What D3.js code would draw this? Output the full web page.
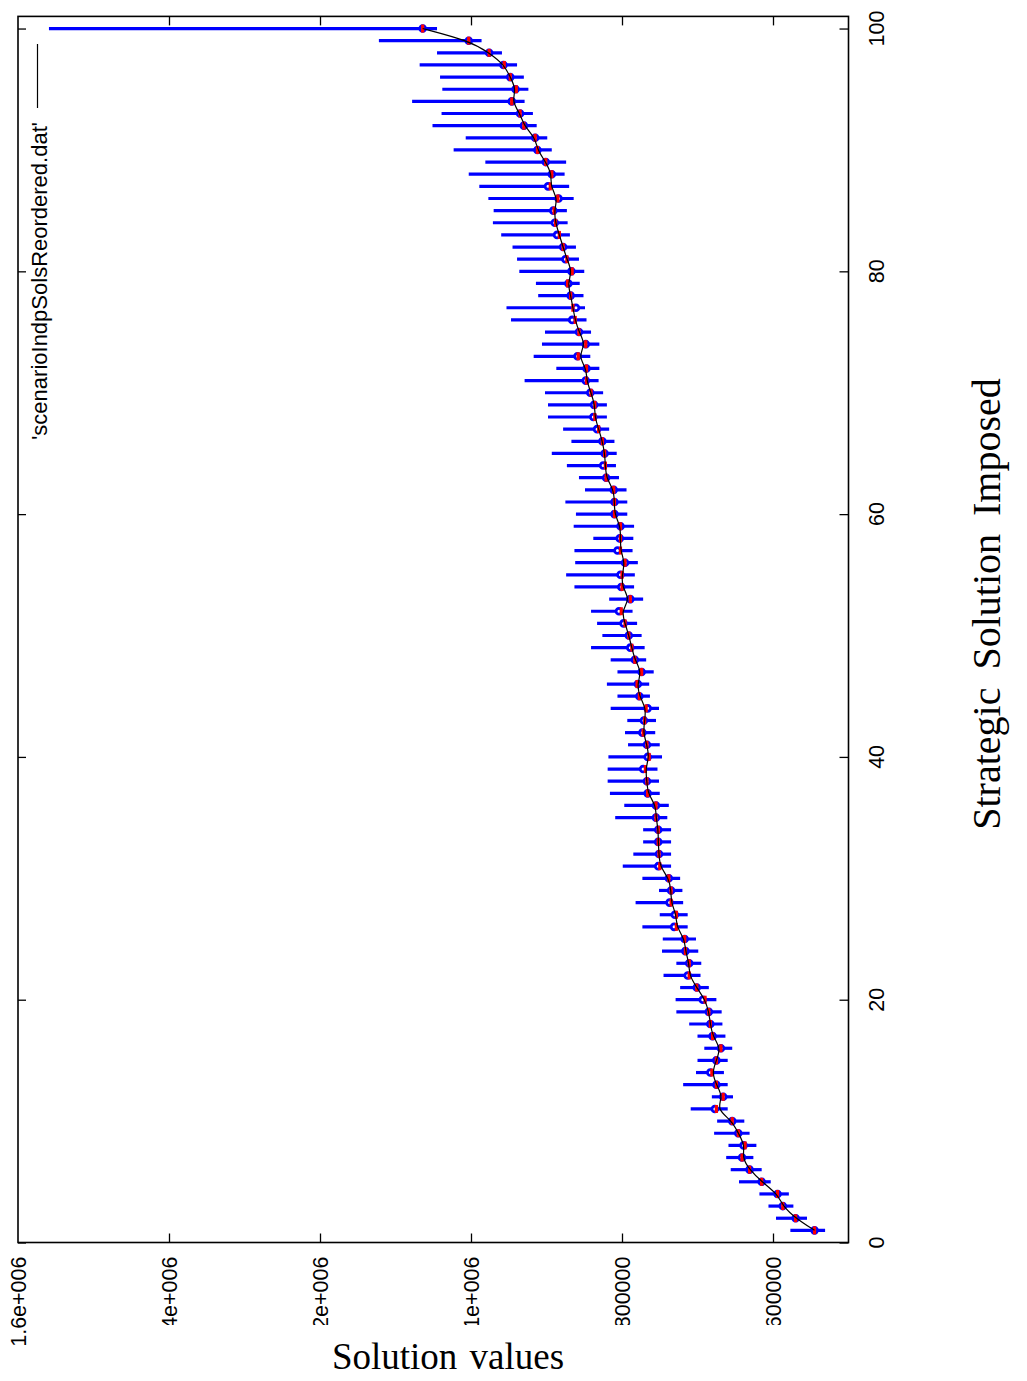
<!DOCTYPE html>
<html lang="en">
  <head>
    <meta charset="UTF-8" />
    <title>scenarioIndpSolsReordered</title>
    <script src="https://d3js.org/d3.v7.min.js"></script>
    <style>
      body { margin: 0; background: #fff; }
    </style>
  </head>
  <body>
    <svg width="1027" height="1381"></svg>
    <script>
      // strategic solution index 1..100
      let scenario = d3.range(1, 101);

      // solution value of each imposed strategic solution (red marks)
      let solValue = [
        545000, 570000, 587000, 594000, 615000, 631000, 641000, 637000, 646000, 654000,
        675000, 666000, 675000, 681000, 675000, 669000, 680000, 683000, 685000, 690000,
        701000, 711000, 711000, 716000, 717000, 728000, 728000, 735000, 735000, 738000,
        750000, 751000, 752000, 752000, 755000, 755000, 766000, 767000, 769000, 764000,
        767000, 772000, 770000, 768000, 777000, 780000, 774000, 783000, 787000, 791000,
        796000, 801000, 789000, 800000, 800000, 796000, 802000, 802000, 802000, 810000,
        810000, 811000, 821000, 822000, 823000, 826000, 831000, 836000, 836000, 841000,
        847000, 847000, 858000, 848000, 857000, 862000, 865000, 868000, 872000, 866000,
        873000, 878000, 883000, 888000, 890000, 885000, 895000, 893000, 901000, 912000,
        915000, 930000, 935000, 946000, 940000, 948000, 956000, 976000, 1003000, 1064000
      ];

      // mean over scenarios (blue circles)
      let meanValue = [
        545000, 570000, 587000, 594000, 615000, 631000, 641000, 639000, 646000, 654000,
        677000, 666000, 675000, 683000, 675000, 669000, 680000, 683000, 685000, 693000,
        701000, 713000, 711000, 716000, 717000, 731000, 730000, 737000, 735000, 738000,
        752000, 751000, 752000, 752000, 755000, 755000, 766000, 767000, 772000, 766000,
        767000, 773000, 771000, 766000, 777000, 779000, 774000, 783000, 789000, 791000,
        798000, 804000, 789000, 801000, 802000, 796000, 806000, 803000, 802000, 810000,
        810000, 811000, 821000, 825000, 823000, 826000, 833000, 838000, 837000, 842000,
        848000, 847000, 859000, 848000, 857000, 866000, 861000, 868000, 871000, 867000,
        875000, 878000, 886000, 889000, 891000, 884000, 898000, 893000, 901000, 912000,
        915000, 930000, 935000, 946000, 941000, 948000, 957000, 976000, 1003000, 1064000
      ];

      // largest value over scenarios (left end of bar)
      let maxValue = [
        577000, 596000, 606000, 618000, 645000, 656000, 662000, 659000, 678000, 674000,
        709000, 681000, 719000, 702000, 700000, 691000, 700000, 711000, 728000, 729000,
        723000, 745000, 728000, 747000, 746000, 773000, 750000, 782000, 751000, 773000,
        799000, 785000, 772000, 772000, 809000, 797000, 816000, 819000, 819000, 818000,
        792000, 796000, 793000, 815000, 806000, 820000, 806000, 815000, 841000, 826000,
        833000, 841000, 817000, 863000, 874000, 862000, 863000, 838000, 864000, 861000,
        875000, 849000, 857000, 873000, 893000, 867000, 878000, 898000, 898000, 902000,
        929000, 887000, 917000, 906000, 902000, 947000, 953000, 911000, 914000, 936000,
        939000, 945000, 960000, 971000, 970000, 977000, 989000, 1003000, 981000, 1023000,
        1007000, 1051000, 1039000, 1078000, 1038000, 1041000, 1068000, 1045000, 1122000, 1559000
      ];

      // smallest value over scenarios (right end of bar)
      let minValue = [
        531000, 555000, 573000, 579000, 603000, 615000, 626000, 622000, 631000, 638000,
        660000, 653000, 660000, 665000, 660000, 654000, 663000, 667000, 668000, 675000,
        685000, 696000, 695000, 699000, 702000, 713000, 713000, 719000, 720000, 723000,
        735000, 735000, 735000, 735000, 740000, 738000, 750000, 751000, 753000, 747000,
        750000, 756000, 755000, 751000, 763000, 764000, 758000, 768000, 770000, 774000,
        780000, 786000, 772000, 784000, 783000, 779000, 786000, 785000, 784000, 793000,
        793000, 794000, 804000, 808000, 807000, 810000, 817000, 820000, 820000, 825000,
        831000, 830000, 842000, 830000, 841000, 847000, 849000, 851000, 856000, 850000,
        857000, 861000, 869000, 872000, 873000, 864000, 870000, 876000, 874000, 893000,
        899000, 913000, 918000, 929000, 924000, 930000, 939000, 959000, 986000, 1045000
      ];

      let valueTicks = [1600000, 1400000, 1200000, 1000000, 800000, 600000];
      let valueTickLabels = ["1.6e+006", "1.4e+006", "1.2e+006", "1e+006", "800000", "600000"];
      let indexTicks = [0, 20, 40, 60, 80, 100];

      let data = scenario.map((s, i) => ({
        s: s,
        sol: solValue[i],
        mean: meanValue[i],
        hi: maxValue[i],
        lo: minValue[i],
      }));

      let svg = d3.select("svg");
      let sans = "'Liberation Sans', Arial, sans-serif";
      let serif = "'Liberation Serif', 'Times New Roman', serif";

      // plot is rotated: values run horizontally (high on the left), index runs up
      let xScale = d3.scaleLinear().domain([1600000, 500000]).range([18, 848.5]);
      let yScale = d3.scaleLinear().domain([0, 101]).range([1242.5, 16.4]);

      let x0 = xScale(1600000), x1 = xScale(500000);
      let y0 = yScale(0), y1 = yScale(101);

      // ticks on all four sides, pointing in
      let tickStyle = (g) => {
        g.select(".domain").remove();
        g.selectAll("text").remove();
        g.selectAll("line").attr("stroke", "black").attr("stroke-width", 1.3);
      };
      svg.append("g").attr("transform", "translate(0," + y0 + ")")
        .call(d3.axisTop(xScale).tickValues(valueTicks.slice(1)).tickSize(9)).call(tickStyle);
      svg.append("g").attr("transform", "translate(0," + y1 + ")")
        .call(d3.axisBottom(xScale).tickValues(valueTicks.slice(1)).tickSize(9)).call(tickStyle);
      svg.append("g").attr("transform", "translate(" + x1 + ",0)")
        .call(d3.axisLeft(yScale).tickValues(indexTicks).tickSize(9)).call(tickStyle);
      svg.append("g").attr("transform", "translate(" + x0 + ",0)")
        .call(d3.axisRight(yScale).tickValues(indexTicks).tickSize(8)).call(tickStyle);

      // error bars
      svg.append("g")
        .selectAll("line")
        .data(data)
        .enter()
        .append("line")
        .attr("x1", (d) => xScale(d.hi))
        .attr("x2", (d) => xScale(d.lo))
        .attr("y1", (d) => yScale(d.s))
        .attr("y2", (d) => yScale(d.s))
        .attr("stroke", "#0000ff")
        .attr("stroke-width", 3.2);

      // blue circles
      svg.append("g")
        .selectAll("circle")
        .data(data)
        .enter()
        .append("circle")
        .attr("cx", (d) => xScale(d.mean))
        .attr("cy", (d) => yScale(d.s))
        .attr("r", 2.9)
        .attr("fill", "white")
        .attr("stroke", "#0000ff")
        .attr("stroke-width", 2.8);

      // red marks
      svg.append("g")
        .selectAll("rect")
        .data(data)
        .enter()
        .append("rect")
        .attr("x", (d) => xScale(d.sol) - 1.6)
        .attr("y", (d) => yScale(d.s) - 4)
        .attr("width", 3.2)
        .attr("height", 8)
        .attr("fill", "#ff0000");

      // smoothed line
      let line = d3.line()
        .x((d) => xScale(d.sol))
        .y((d) => yScale(d.s))
        .curve(d3.curveBasis);
      svg.append("path")
        .datum(data)
        .attr("d", line)
        .attr("fill", "none")
        .attr("stroke", "black")
        .attr("stroke-width", 1.2);

      // frame
      svg.append("rect")
        .attr("x", x0)
        .attr("y", y1)
        .attr("width", x1 - x0)
        .attr("height", y0 - y1)
        .attr("fill", "none")
        .attr("stroke", "black")
        .attr("stroke-width", 1.6);

      // value labels (bottom), cut off like in the original page
      svg.append("defs").append("clipPath").attr("id", "cut")
        .append("rect").attr("x", 0).attr("y", 0).attr("width", 1027).attr("height", 1325);

      let vl = svg.append("g");
      valueTicks.forEach((v, i) => {
        let holder = i == 0 ? vl : vl.append("g").attr("clip-path", "url(#cut)");
        holder.append("text")
          .attr("transform", "translate(" + xScale(v) + "," + (y0 + 14) + ") rotate(-90)")
          .attr("text-anchor", "end")
          .attr("dy", "0.35em")
          .attr("font-family", sans)
          .attr("font-size", 21.5)
          .text(valueTickLabels[i]);
      });

      // index labels (right)
      svg.append("g")
        .selectAll("text")
        .data(indexTicks)
        .enter()
        .append("text")
        .attr("transform", (d) => "translate(" + (x1 + 28) + "," + yScale(d) + ") rotate(-90)")
        .attr("text-anchor", "middle")
        .attr("dy", "0.35em")
        .attr("font-family", sans)
        .attr("font-size", 21.5)
        .text((d) => d);

      // axis titles
      svg.append("text")
        .attr("transform", "translate(1000,604) rotate(-90)")
        .attr("text-anchor", "middle")
        .attr("font-family", serif)
        .attr("font-size", 40)
        .attr("word-spacing", 8)
        .text("Strategic Solution Imposed");

      svg.append("text")
        .attr("x", 448)
        .attr("y", 1369)
        .attr("text-anchor", "middle")
        .attr("font-family", serif)
        .attr("font-size", 37)
        .attr("word-spacing", 3)
        .text("Solution values");

      // key
      svg.append("text")
        .attr("transform", "translate(39,122) rotate(-90)")
        .attr("text-anchor", "end")
        .attr("dy", "0.35em")
        .attr("font-family", sans)
        .attr("font-size", 22)
        .text("'scenarioIndpSolsReordered.dat'");
      svg.append("line")
        .attr("x1", 37.5).attr("x2", 37.5)
        .attr("y1", 44).attr("y2", 108)
        .attr("stroke", "black")
        .attr("stroke-width", 1.2);
    </script>
  </body>
</html>
